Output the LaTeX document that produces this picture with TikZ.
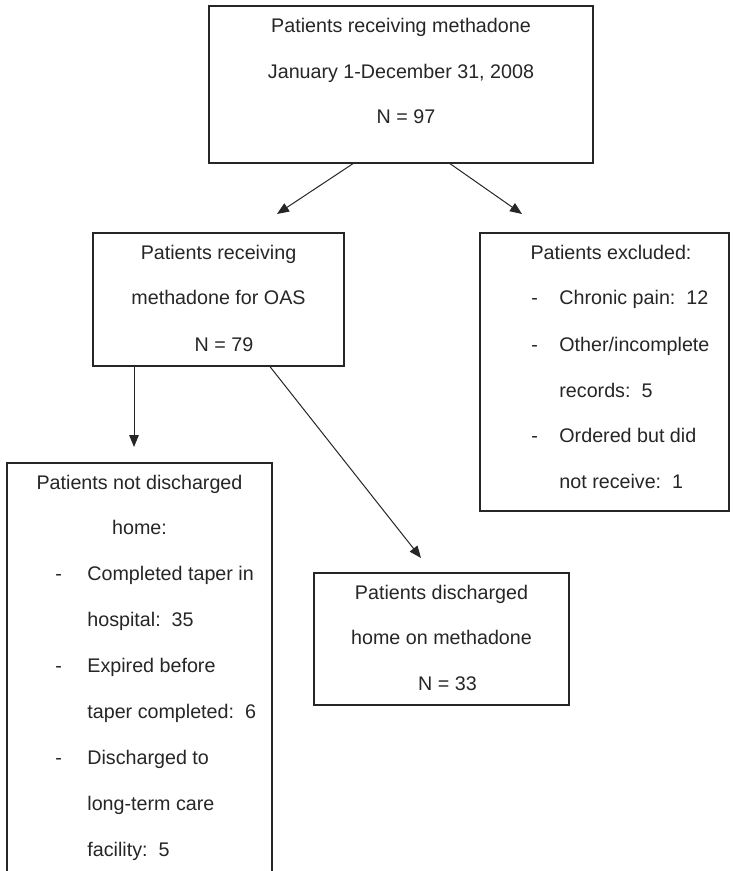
\documentclass[tikz,border=0pt]{standalone}
\usepackage{fontspec}
\setmainfont{Liberation Sans}
\usetikzlibrary{arrows.meta}
\definecolor{ink}{HTML}{262626}
\begin{document}
\begin{tikzpicture}[x=0.5pt,y=-0.5pt,
  box/.style={draw=ink, line width=0.65pt, rectangle, inner sep=0pt},
  txt/.style={inner sep=0pt, anchor=base, text=ink, font=\fontsize{9.85pt}{12pt}\selectfont},
  ltxt/.style={txt, anchor=base west},
  arr/.style={draw=ink, line width=0.5pt, -{Triangle[length=6pt,width=4.8pt]}}]
\path[use as bounding box, clip] (0,0) rectangle (734,871);
\fill[white] (0,0) rectangle (734,871);
% boxes
\node[box, minimum width=192pt, minimum height=78.5pt] (top) at (401,84.5) {};
\node[box, minimum width=125.5pt, minimum height=66.5pt] (mid) at (218.5,299.5) {};
\node[box, minimum width=124.5pt, minimum height=139pt] (excl) at (604.5,372) {};
\node[box, minimum width=127.5pt, minimum height=66pt] (home) at (441.5,639) {};
\node[box, minimum width=132.5pt, minimum height=218.5pt] (nothome) at (139.5,681.5) {};
% top box text
\node[txt] (t1) at (401,33) {Patients receiving methadone};
\node[txt] (t2) at (401,79) {January 1-December 31, 2008};
\node[txt] (t3) at (406,124) {N = 97};
% middle box text
\node[txt] (m1) at (218.5,260) {Patients receiving};
\node[txt] (m2) at (218.5,305) {methadone for OAS};
\node[txt] (m3) at (224,351) {N = 79};
% excluded box text
\node[txt] (x1) at (611,260) {Patients excluded:};
\node[ltxt] (xd1) at (531,305) {-};
\node[ltxt] (x2) at (559,305) {Chronic pain:\ \ 12};
\node[ltxt] (xd2) at (531,351) {-};
\node[ltxt] (x3) at (559,351) {Other/incomplete};
\node[ltxt] (x4) at (559,397) {records:\ \ 5};
\node[ltxt] (xd3) at (531,442) {-};
\node[ltxt] (x5) at (559,442) {Ordered but did};
\node[ltxt] (x6) at (559,488) {not receive:\ \ 1};
% home box text
\node[txt] (h1) at (441.5,599) {Patients discharged};
\node[txt] (h2) at (441.5,644) {home on methadone};
\node[txt] (h3) at (447.5,690) {N = 33};
% not home box text
\node[txt] (n1) at (139.5,489) {Patients not discharged};
\node[txt] (n2) at (139.5,534) {home:};
\node[ltxt] (nd1) at (55,580) {-};
\node[ltxt] (n3) at (87,580) {Completed taper in};
\node[ltxt] (n4) at (87,626) {hospital:\ \ 35};
\node[ltxt] (nd2) at (55,672) {-};
\node[ltxt] (n5) at (87,672) {Expired before};
\node[ltxt] (n6) at (87,718) {taper completed:\ \ 6};
\node[ltxt] (nd3) at (55,764) {-};
\node[ltxt] (n7) at (87,764) {Discharged to};
\node[ltxt] (n8) at (87,810) {long-term care};
\node[ltxt] (n9) at (87,856) {facility:\ \ 5};
% arrow ends
\coordinate (e1) at (277,214);
\coordinate (e2) at (522,214);
\coordinate (e3) at (134,447);
\coordinate (e4) at (421,558);
% arrows
\draw[arr] ([xshift=-24pt]top.south) -- (e1);
\draw[arr] ([xshift=24.5pt]top.south) -- (e2);
\draw[arr] ([xshift=-42.25pt]mid.south) -- (e3);
\draw[arr] ([xshift=25.75pt]mid.south) -- (e4);
\end{tikzpicture}
\end{document}
